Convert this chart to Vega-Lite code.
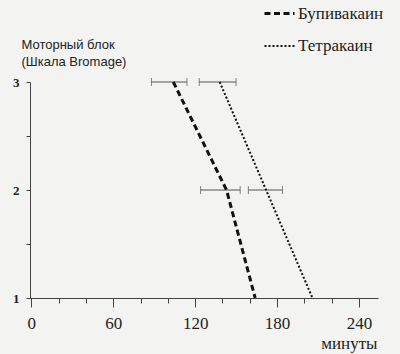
{
  "$schema": "https://vega.github.io/schema/vega-lite/v6.json",
  "width": 348,
  "height": 216,
  "autosize": "none",
  "padding": {"left": 30, "top": 82, "right": 22, "bottom": 56},
  "background": "#f3f3f2",
  "config": {
    "view": {"stroke": null},
    "axis": {"grid": false, "domainColor": "#444", "tickColor": "#444", "labelColor": "#222", "titleColor": "#222", "labelFlush": false, "labelOverlap": false, "titleFontWeight": "normal"}
  },
  "datasets": {
    "lines": [
      {"drug": "Бупивакаин", "level": 3, "minutes": 104},
      {"drug": "Бупивакаин", "level": 2, "minutes": 143},
      {"drug": "Бупивакаин", "level": 1, "minutes": 164},
      {"drug": "Тетракаин", "level": 3, "minutes": 138},
      {"drug": "Тетракаин", "level": 2, "minutes": 172},
      {"drug": "Тетракаин", "level": 1, "minutes": 206}
    ],
    "err": [
      {"drug": "Бупивакаин", "level": 3, "lo": 88, "hi": 114},
      {"drug": "Бупивакаин", "level": 2, "lo": 124, "hi": 153},
      {"drug": "Тетракаин", "level": 3, "lo": 123, "hi": 150},
      {"drug": "Тетракаин", "level": 2, "lo": 159, "hi": 184}
    ]
  },
  "layer": [
    {
      "data": {"name": "err"},
      "mark": {"type": "rule", "color": "#555", "strokeWidth": 1},
      "encoding": {
        "x": {"field": "lo", "type": "quantitative", "scale": {"domain": [-1, 254], "nice": false, "zero": false},
          "axis": {
            "values": [0, 20, 40, 60, 80, 100, 120, 140, 160, 180, 200, 220, 240],
            "labelExpr": "datum.value % 60 === 0 ? datum.label : ''",
            "tickSize": {"condition": {"test": "datum.value % 60 === 0", "value": 9}, "value": 5},
            "labelFont": "Liberation Serif", "labelFontSize": 17, "labelPadding": 8,
            "title": "минуты", "titleFont": "Liberation Serif", "titleFontSize": 17,
            "titleAnchor": "end", "titleAlign": "right", "titleBaseline": "alphabetic", "titleX": 347, "titleY": 50
          }
        },
        "x2": {"field": "hi"},
        "y": {"field": "level", "type": "quantitative", "scale": {"domain": [1, 3], "nice": false, "zero": false},
          "axis": {
            "values": [1, 1.5, 2, 2.5, 3],
            "labelExpr": "datum.value % 1 === 0 ? format(datum.value, 'd') : ''",
            "tickSize": 4, "labelPadding": 7,
            "labelFont": "Liberation Serif", "labelFontWeight": "bold", "labelFontSize": 13,
            "title": ["Моторный блок", "(Шкала Bromage)"], "titleFont": "Liberation Sans", "titleFontSize": 13,
            "titleAngle": 0, "titleAlign": "left", "titleBaseline": "alphabetic", "titleLineHeight": 17, "titleX": -9, "titleY": -34
          }
        }
      }
    },
    {
      "data": {"name": "err"},
      "mark": {"type": "tick", "orient": "vertical", "color": "#555", "thickness": 1, "size": 8},
      "encoding": {
        "x": {"field": "lo", "type": "quantitative",
          "axis": {
            "values": [0, 20, 40, 60, 80, 100, 120, 140, 160, 180, 200, 220, 240],
            "labelExpr": "datum.value % 60 === 0 ? datum.label : ''",
            "tickSize": {"condition": {"test": "datum.value % 60 === 0", "value": 9}, "value": 5},
            "labelFont": "Liberation Serif", "labelFontSize": 17, "labelPadding": 8,
            "title": "минуты", "titleFont": "Liberation Serif", "titleFontSize": 17,
            "titleAnchor": "end", "titleAlign": "right", "titleBaseline": "alphabetic", "titleX": 347, "titleY": 50
          }
        },
        "y": {"field": "level", "type": "quantitative",
          "axis": {
            "values": [1, 1.5, 2, 2.5, 3],
            "labelExpr": "datum.value % 1 === 0 ? format(datum.value, 'd') : ''",
            "tickSize": 4, "labelPadding": 7,
            "labelFont": "Liberation Serif", "labelFontWeight": "bold", "labelFontSize": 13,
            "title": ["Моторный блок", "(Шкала Bromage)"], "titleFont": "Liberation Sans", "titleFontSize": 13,
            "titleAngle": 0, "titleAlign": "left", "titleBaseline": "alphabetic", "titleLineHeight": 17, "titleX": -9, "titleY": -34
          }
        }
      }
    },
    {
      "data": {"name": "err"},
      "mark": {"type": "tick", "orient": "vertical", "color": "#555", "thickness": 1, "size": 8},
      "encoding": {
        "x": {"field": "hi", "type": "quantitative",
          "axis": {
            "values": [0, 20, 40, 60, 80, 100, 120, 140, 160, 180, 200, 220, 240],
            "labelExpr": "datum.value % 60 === 0 ? datum.label : ''",
            "tickSize": {"condition": {"test": "datum.value % 60 === 0", "value": 9}, "value": 5},
            "labelFont": "Liberation Serif", "labelFontSize": 17, "labelPadding": 8,
            "title": "минуты", "titleFont": "Liberation Serif", "titleFontSize": 17,
            "titleAnchor": "end", "titleAlign": "right", "titleBaseline": "alphabetic", "titleX": 347, "titleY": 50
          }
        },
        "y": {"field": "level", "type": "quantitative",
          "axis": {
            "values": [1, 1.5, 2, 2.5, 3],
            "labelExpr": "datum.value % 1 === 0 ? format(datum.value, 'd') : ''",
            "tickSize": 4, "labelPadding": 7,
            "labelFont": "Liberation Serif", "labelFontWeight": "bold", "labelFontSize": 13,
            "title": ["Моторный блок", "(Шкала Bromage)"], "titleFont": "Liberation Sans", "titleFontSize": 13,
            "titleAngle": 0, "titleAlign": "left", "titleBaseline": "alphabetic", "titleLineHeight": 17, "titleX": -9, "titleY": -34
          }
        }
      }
    },
    {
      "data": {"name": "lines"},
      "mark": {"type": "line", "color": "#111"},
      "encoding": {
        "x": {"field": "minutes", "type": "quantitative",
          "axis": {
            "values": [0, 20, 40, 60, 80, 100, 120, 140, 160, 180, 200, 220, 240],
            "labelExpr": "datum.value % 60 === 0 ? datum.label : ''",
            "tickSize": {"condition": {"test": "datum.value % 60 === 0", "value": 9}, "value": 5},
            "labelFont": "Liberation Serif", "labelFontSize": 17, "labelPadding": 8,
            "title": "минуты", "titleFont": "Liberation Serif", "titleFontSize": 17,
            "titleAnchor": "end", "titleAlign": "right", "titleBaseline": "alphabetic", "titleX": 347, "titleY": 50
          }
        },
        "y": {"field": "level", "type": "quantitative",
          "axis": {
            "values": [1, 1.5, 2, 2.5, 3],
            "labelExpr": "datum.value % 1 === 0 ? format(datum.value, 'd') : ''",
            "tickSize": 4, "labelPadding": 7,
            "labelFont": "Liberation Serif", "labelFontWeight": "bold", "labelFontSize": 13,
            "title": ["Моторный блок", "(Шкала Bromage)"], "titleFont": "Liberation Sans", "titleFontSize": 13,
            "titleAngle": 0, "titleAlign": "left", "titleBaseline": "alphabetic", "titleLineHeight": 17, "titleX": -9, "titleY": -34
          }
        },
        "strokeDash": {"field": "drug", "type": "nominal",
          "scale": {"domain": ["Бупивакаин", "Тетракаин"], "range": [[6, 3.5], [2, 2]]},
          "legend": {
            "orient": "none", "legendX": 233, "legendY": -85, "padding": 0,
            "title": null, "symbolType": "stroke", "symbolSize": 900,
            "symbolStrokeColor": "#111",
            "labelFont": "Liberation Serif", "labelFontSize": 17, "labelColor": "#222",
            "labelOffset": 2, "rowPadding": 8
          }
        },
        "strokeWidth": {"field": "drug", "type": "nominal",
          "scale": {"domain": ["Бупивакаин", "Тетракаин"], "range": [3, 2]},
          "legend": {
            "orient": "none", "legendX": 233, "legendY": -85, "padding": 0,
            "title": null, "symbolType": "stroke", "symbolSize": 900,
            "symbolStrokeColor": "#111",
            "labelFont": "Liberation Serif", "labelFontSize": 17, "labelColor": "#222",
            "labelOffset": 2, "rowPadding": 8
          }
        }
      }
    }
  ]
}
